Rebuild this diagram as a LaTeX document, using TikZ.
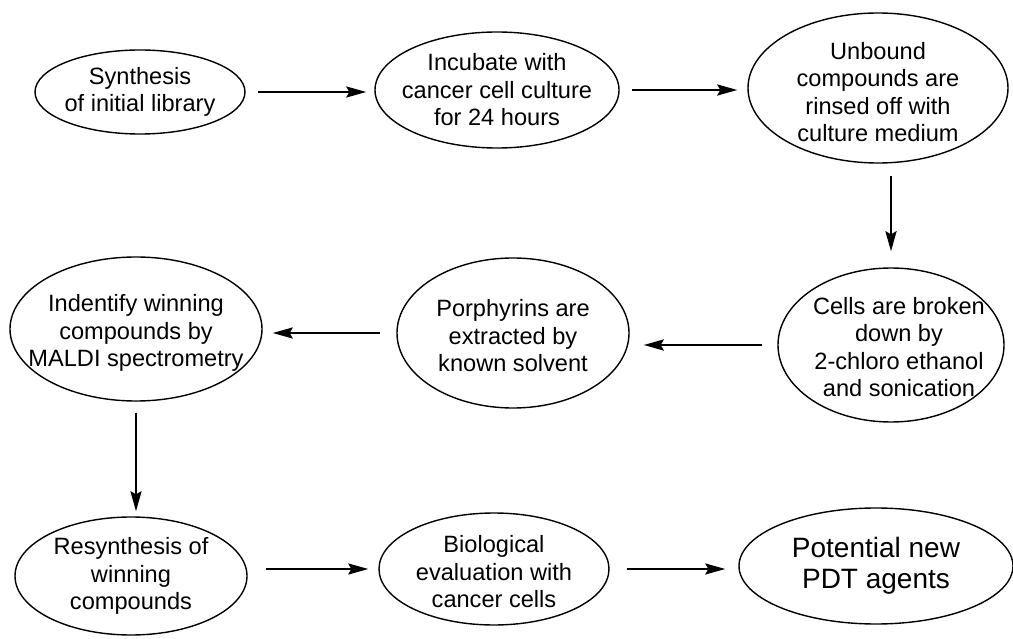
\documentclass[tikz,border=0pt]{standalone}
\usepackage{fontspec}
\setmainfont{Liberation Sans}
\usetikzlibrary{shapes.geometric}
\usetikzlibrary{arrows.meta}

\tikzset{
  stage/.style={ellipse,draw=black,line width=1.4pt,inner sep=0pt},
  stagetext/.style={align=center,inner sep=0pt,font=\fontsize{23.6}{27.5}\selectfont},
  flow/.style={line width=2.2pt,-{Stealth[length=20pt,width=11pt,inset=3pt]},
    shorten <=12pt,shorten >=10pt}
}

\begin{document}
\begin{tikzpicture}[x=1pt,y=-1pt]
\useasboundingbox (0,0) rectangle (1013,639);

% top row
\node[stage,minimum width=210pt,minimum height=84pt] (syn) at (140,92) {};
\node[stagetext] (syn-t) at (syn) {Synthesis\\of initial library};
\node[stage,minimum width=244pt,minimum height=116pt] (inc) at (497,90) {};
\node[stagetext] (inc-t) at (inc) {Incubate with\\cancer cell culture\\for 24 hours};
\node[stage,minimum width=260pt,minimum height=150pt] (rin) at (878,88) {};
\node[stagetext] (rin-t) at ([yshift=-4pt]rin) {Unbound\\compounds are\\rinsed off with\\culture medium};

% middle row
\node[stage,minimum width=226pt,minimum height=154pt] (brk) at (891,345) {};
\node[stagetext] (brk-t) at ([xshift=8pt,yshift=-2pt]brk) {Cells are broken\\down by\\2-chloro ethanol\\and sonication};
\node[stage,minimum width=232pt,minimum height=150pt] (ext) at (513,333) {};
\node[stagetext] (ext-t) at ([yshift=-3pt]ext) {Porphyrins are\\extracted by\\known solvent};
\node[stage,minimum width=252pt,minimum height=144pt] (mal) at (136,329) {};
\node[stagetext] (mal-t) at ([yshift=-4pt]mal) {Indentify winning\\compounds by\\MALDI spectrometry};

% bottom row
\node[stage,minimum width=232pt,minimum height=118pt] (res) at (131,576) {};
\node[stagetext] (res-t) at (res) {Resynthesis of\\winning\\compounds};
\node[stage,minimum width=230pt,minimum height=112pt] (bio) at (494,569) {};
\node[stagetext] (bio-t) at ([yshift=-3pt]bio) {Biological\\evaluation with\\cancer cells};
\node[stage,minimum width=274pt,minimum height=116pt] (pdt) at (876,566) {};
\node[stagetext,font=\fontsize{28}{31}\selectfont] (pdt-t) at (pdt) {Potential new\\PDT agents};

% arrows
\draw[flow,line width=2pt,shorten >=8pt] (syn.east) -- (syn.east -| inc.west);
\draw[flow,line width=2.6pt] (inc.east) -- (inc.east -| rin.west);
\draw[flow,line width=2.6pt,shorten >=16pt] (brk.north |- rin.south) -- (brk.north);
\draw[flow,line width=2.8pt,shorten <=15pt,shorten >=14pt] (brk.west) -- (brk.west -| ext.east);
\draw[flow,line width=2pt,shorten <=16pt] (ext.west) -- (ext.west -| mal.east);
\draw[flow,line width=2.4pt,shorten <=11pt,shorten >=5pt] (mal.south) -- (mal.south |- res.north);
\draw[flow,shorten <=18pt] (bio.west -| res.east) -- (bio.west);
\draw[flow,shorten <=17pt,shorten >=13pt] (bio.east) -- (bio.east -| pdt.west);

\end{tikzpicture}
\end{document}
